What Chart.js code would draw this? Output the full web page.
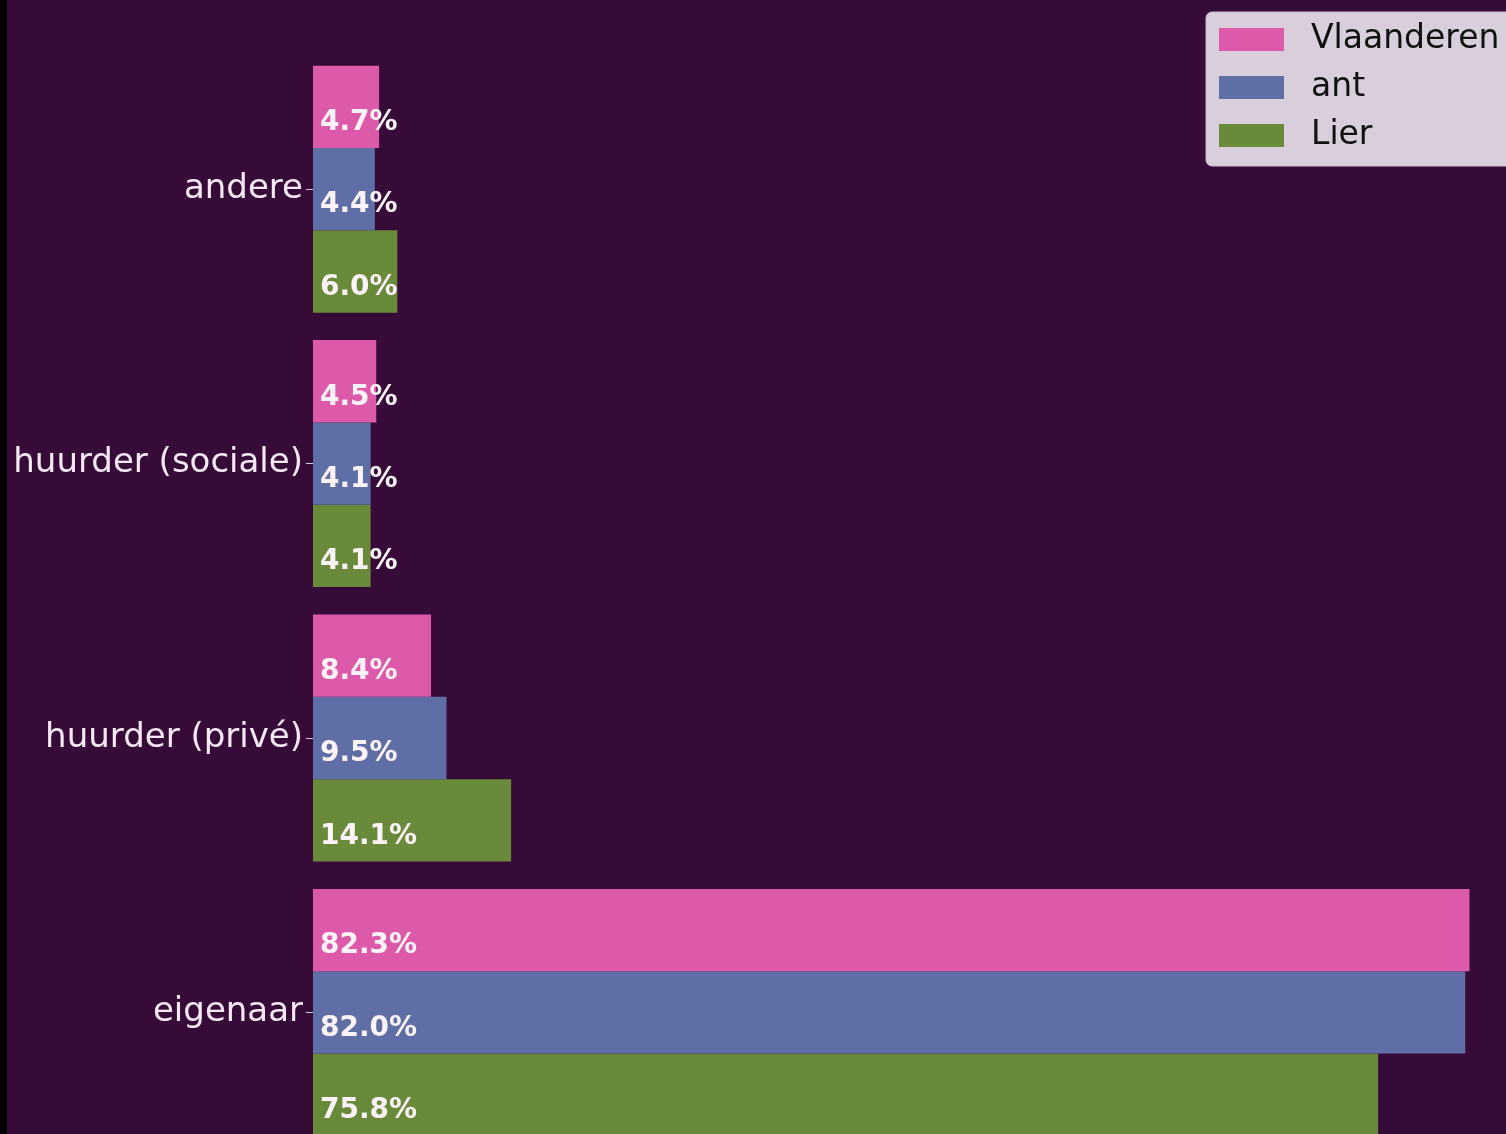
<!DOCTYPE html>
<html>
<head>
<meta charset="utf-8">
<script src="https://cdn.jsdelivr.net/npm/chart.js@4.4.1/dist/chart.umd.min.js"></script>
<style>
  html, body { margin: 0; padding: 0; background: #370b37; overflow: hidden; }
  #wrap { position: relative; width: 1506px; height: 1134px; overflow: hidden; }
  #strip { position: absolute; left: 0; top: 0; width: 7px; height: 1134px; background: #050205; }
  canvas { position: absolute; left: 0; top: 0; }
</style>
</head>
<body>
<div id="wrap">
  <canvas id="woning" width="1506" height="1173"></canvas>
  <div id="strip"></div>
</div>
<script>
const categories = ['andere', 'huurder (sociale)', 'huurder (privé)', 'eigenaar'];
const seriesNames = ['Vlaanderen', 'ant', 'Lier'];
const vlaanderen = [4.7, 4.5, 8.4, 82.3];
const ant = [4.4, 4.1, 9.5, 82.0];
const lier = [6.0, 4.1, 14.1, 75.8];
const colors = ['#dd5aab', '#5f6fa6', '#6a8a3b'];

const valueLabels = {
  id: 'valueLabels',
  afterDatasetsDraw(chart) {
    const ctx = chart.ctx;
    ctx.save();
    ctx.font = 'bold 28px "DejaVu Sans"';
    ctx.fillStyle = '#fbf3f7';
    ctx.textAlign = 'left';
    ctx.textBaseline = 'middle';
    chart.data.datasets.forEach((ds, i) => {
      chart.getDatasetMeta(i).data.forEach((bar, j) => {
        ctx.fillText(ds.data[j].toFixed(1) + '%', bar.base + 7, bar.y + 16);
      });
    });
    ctx.restore();
  }
};

const boxLegend = {
  id: 'boxLegend',
  afterDraw(chart) {
    const ctx = chart.ctx;
    ctx.save();
    ctx.fillStyle = '#d9cedc';
    ctx.strokeStyle = '#c8bccc';
    ctx.lineWidth = 1;
    ctx.beginPath();
    ctx.roundRect(1206, 12, 330, 154, 6);
    ctx.fill();
    ctx.stroke();
    ctx.font = '33px "DejaVu Sans"';
    ctx.textBaseline = 'middle';
    ctx.textAlign = 'left';
    chart.data.datasets.forEach((ds, i) => {
      const y = 39 + i * 48;
      ctx.fillStyle = ds.backgroundColor;
      ctx.fillRect(1219, y - 11, 65, 23);
      ctx.fillStyle = '#111111';
      ctx.fillText(ds.label, 1311, y);
    });
    ctx.restore();
  }
};

new Chart('woning', {
  type: 'bar',
  data: {
    labels: categories,
    datasets: [
      { label: seriesNames[0], data: vlaanderen, backgroundColor: colors[0] },
      { label: seriesNames[1], data: ant, backgroundColor: colors[1] },
      { label: seriesNames[2], data: lier, backgroundColor: colors[2] }
    ]
  },
  options: {
    indexAxis: 'y',
    responsive: false,
    animation: false,
    events: [],
    layout: { padding: { top: 52, bottom: 11, left: 0, right: 0 } },
    datasets: { bar: { categoryPercentage: 0.9, barPercentage: 1.0 } },
    plugins: { legend: { display: false }, tooltip: { enabled: false } },
    scales: {
      x: { display: false, min: 0, max: 84.9 },
      y: {
        afterFit(scale) { scale.width = 313; },
        border: { display: false },
        grid: { offset: false, drawOnChartArea: false, tickLength: 7, color: '#d8c8d8', lineWidth: 1 },
        ticks: { color: '#f6e8f4', padding: 3, font: { family: 'DejaVu Sans', size: 34 } }
      }
    }
  },
  plugins: [valueLabels, boxLegend]
});
</script>
</body>
</html>
